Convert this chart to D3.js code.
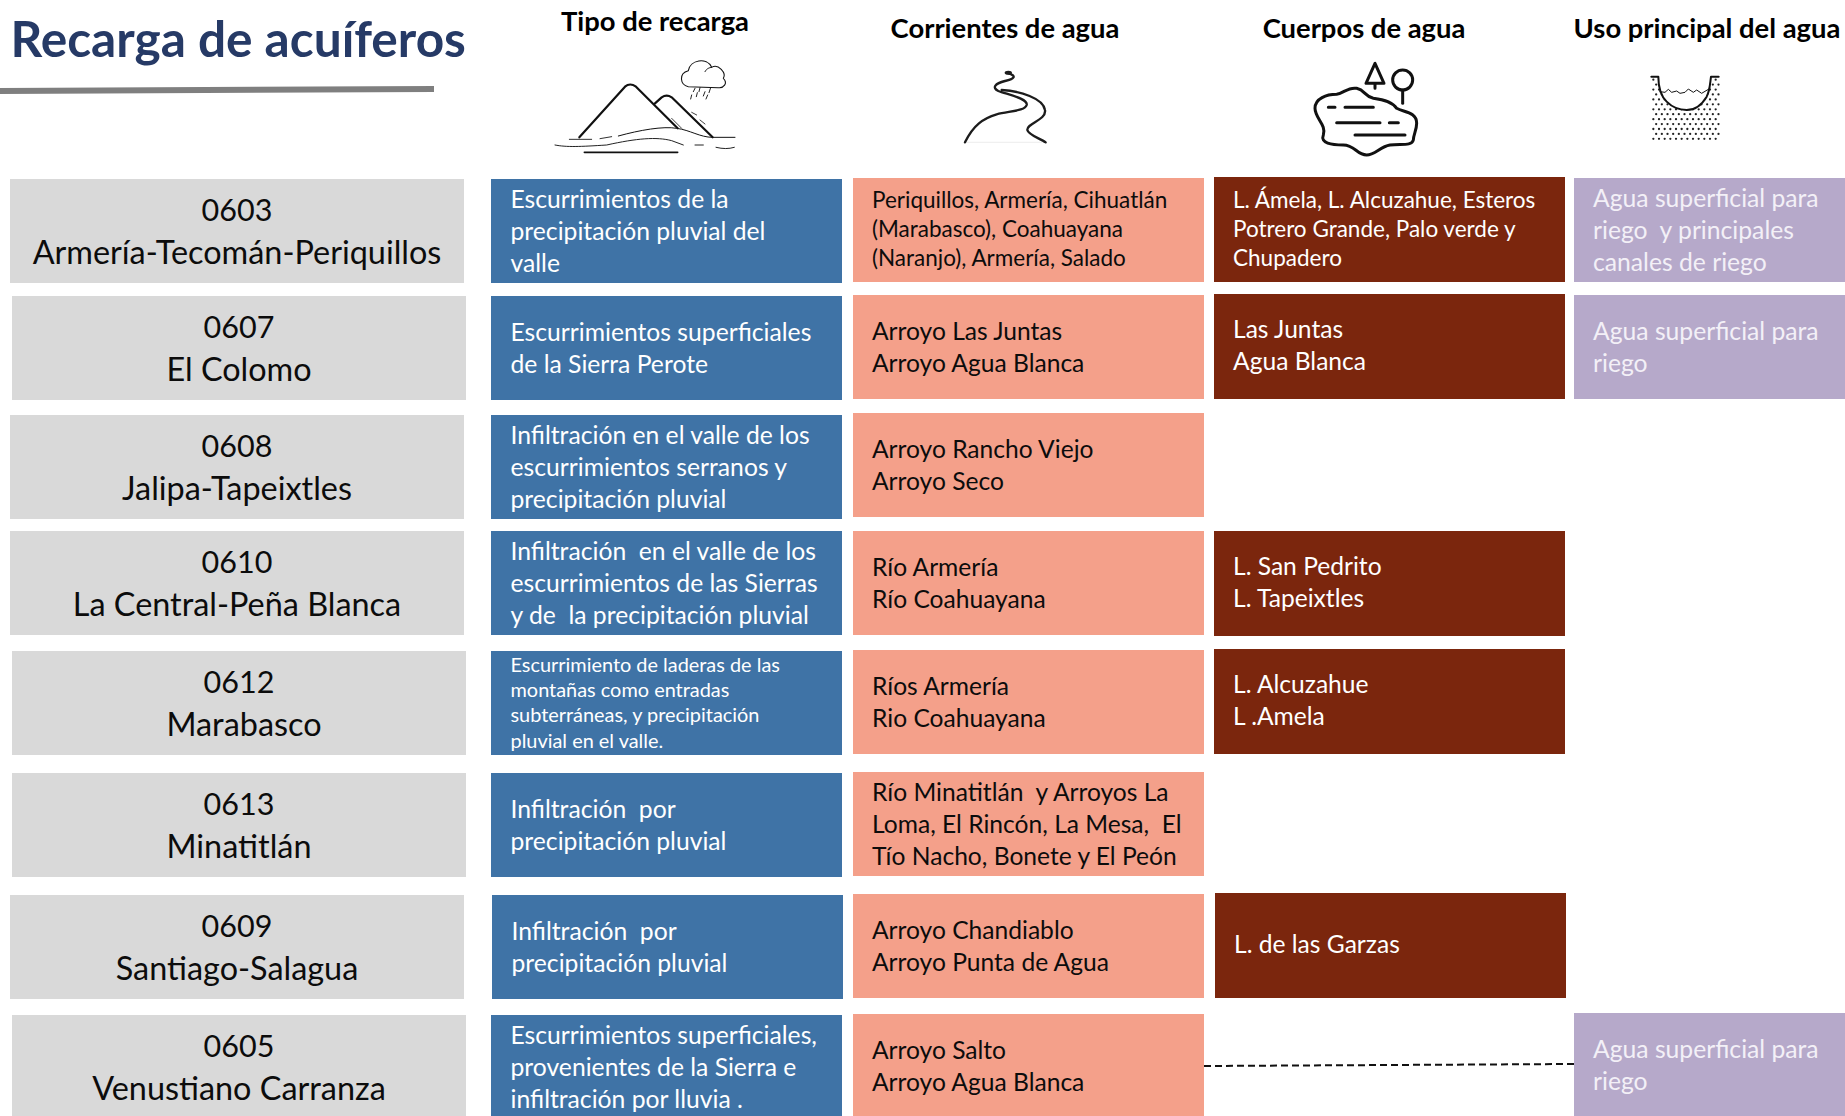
<!DOCTYPE html>
<html lang="es">
<head>
<meta charset="utf-8">
<title>Recarga de acuíferos</title>
<script src="https://d3js.org/d3.v7.min.js"></script>
<style>
html,body{margin:0;padding:0;background:#fff;overflow:hidden}
svg{display:block}
text{font-family:Lato,Carlito,"Open Sans",sans-serif}
</style>
</head>
<body>
<svg id="chart" width="1845" height="1116"></svg>
<script>
// ---------- content ----------
const chartTitle = "Recarga de acuíferos";
const columnTitles = ["Tipo de recarga", "Corrientes de agua", "Cuerpos de agua", "Uso principal del agua"];
const aquiferCodes = ["0603", "0607", "0608", "0610", "0612", "0613", "0609", "0605"];
const aquiferNames = ["Armería-Tecomán-Periquillos", "El Colomo", "Jalipa-Tapeixtles", "La Central-Peña Blanca",
  "Marabasco", "Minatitlán", "Santiago-Salagua", "Venustiano Carranza"];
const rechargeTypes = [
  ["Escurrimientos de la", "precipitación pluvial del", "valle"],
  ["Escurrimientos superficiales", "de la Sierra Perote"],
  ["Infiltración en el valle de los", "escurrimientos serranos y", "precipitación pluvial"],
  ["Infiltración  en el valle de los", "escurrimientos de las Sierras", "y de  la precipitación pluvial"],
  ["Escurrimiento de laderas de las", "montañas como entradas", "subterráneas, y precipitación", "pluvial en el valle."],
  ["Infiltración  por", "precipitación pluvial"],
  ["Infiltración  por", "precipitación pluvial"],
  ["Escurrimientos superficiales,", "provenientes de la Sierra e", "infiltración por lluvia ."]
];
const streams = [
  ["Periquillos, Armería, Cihuatlán", "(Marabasco), Coahuayana", "(Naranjo), Armería, Salado"],
  ["Arroyo Las Juntas", "Arroyo Agua Blanca"],
  ["Arroyo Rancho Viejo", "Arroyo Seco"],
  ["Río Armería", "Río Coahuayana"],
  ["Ríos Armería", "Rio Coahuayana"],
  ["Río Minatitlán  y Arroyos La", "Loma, El Rincón, La Mesa,  El", "Tío Nacho, Bonete y El Peón"],
  ["Arroyo Chandiablo", "Arroyo Punta de Agua"],
  ["Arroyo Salto", "Arroyo Agua Blanca"]
];
const waterBodies = [
  ["L. Ámela, L. Alcuzahue, Esteros", "Potrero Grande, Palo verde y", "Chupadero"],
  ["Las Juntas", "Agua Blanca"],
  null,
  ["L. San Pedrito", "L. Tapeixtles"],
  ["L. Alcuzahue", "L .Amela"],
  null,
  ["L. de las Garzas"],
  null
];
const mainUses = [
  ["Agua superficial para", "riego  y principales", "canales de riego"],
  ["Agua superficial para", "riego"],
  null, null, null, null, null,
  ["Agua superficial para", "riego"]
];

// ---------- layout ----------
const svg = d3.select("#chart");
const W = 1845, H = 1116;

const rowTop = {
  label:  d3.scaleOrdinal(aquiferCodes, [179, 296, 415, 531, 651, 773, 895, 1015]),
  type:   d3.scaleOrdinal(aquiferCodes, [179, 296, 415, 531, 651, 773, 895, 1015]),
  stream: d3.scaleOrdinal(aquiferCodes, [178, 295, 413, 531, 650, 772, 894, 1014]),
  body:   d3.scaleOrdinal(aquiferCodes, [177, 294, 413, 531, 649, 772, 893, 1014]),
  use:    d3.scaleOrdinal(aquiferCodes, [178, 295, 413, 531, 649, 772, 893, 1013])
};
const labelLeft = d3.scaleOrdinal(aquiferCodes, [10, 12, 10, 10, 12, 12, 10, 12]);
const labelShift = d3.scaleOrdinal(aquiferCodes, [0, 0, 0, 0, 5, 0, 0, 0]);
const typeLeft = d3.scaleOrdinal(aquiferCodes, [491, 491, 491, 491, 491, 491, 492, 491]);
const bodyLeft = d3.scaleOrdinal(aquiferCodes, [1214, 1214, 1214, 1214, 1214, 1214, 1215, 1214]);
const streamLeft = 853, useLeft = 1574;

const columns = [
  {key: "type",   values: rechargeTypes, left: c => typeLeft(c), width: 351, height: 104, fill: "#3f73a6", ink: "#ffffff", pad: 19.5, size: 24.7, lead: 32, nudge: 0.5},
  {key: "stream", values: streams,       left: () => streamLeft, width: 351, height: 104, fill: "#f4a08a", ink: "#0c0c0c", pad: 19, size: 24.6, lead: 32, nudge: 0.5},
  {key: "body",   values: waterBodies,   left: c => bodyLeft(c), width: 351, height: 105, fill: "#7b260d", ink: "#ffffff", pad: 19, size: 24.6, lead: 32, nudge: -0.5},
  {key: "use",    values: mainUses,      left: () => useLeft,    width: 271, height: 104, fill: "#b6a9ca", ink: "#f3f0f7", pad: 19, size: 24.7, lead: 32, nudge: 1}
];
const labelHeight = 104;

// first row of streams and water bodies is set smaller; the four-line cell is smallest
function textStyle(col, i, lines) {
  if (lines.length === 4) return {size: 19.9, lead: 25.3, nudge: 0};
  if (i === 0 && (col.key === "stream" || col.key === "body")) return {size: 22.5, lead: 29, nudge: -0.5};
  return {size: col.size, lead: col.lead, nudge: col.nudge};
}

// ---------- title ----------
svg.append("text").attr("x", 10.5).attr("y", 57)
  .attr("font-size", 49.6).attr("font-weight", 700).attr("fill", "#263a66").text(chartTitle);
const rule = d3.line();
svg.append("path")
  .attr("d", rule([[0, 88], [434, 86], [434, 92], [0, 94]]) + "Z")
  .attr("fill", "#7f7f7f");

// ---------- column heads ----------
const headCenter = d3.scaleOrdinal(columnTitles, [655, 1005, 1364, 1707]);
const headBase = d3.scaleOrdinal(columnTitles, [31, 38, 38, 38]);
svg.append("g").selectAll("text").data(columnTitles).join("text")
  .attr("x", d => headCenter(d)).attr("y", d => headBase(d))
  .attr("text-anchor", "middle").attr("font-size", 27.4).attr("font-weight", 700).attr("fill", "#000").text(d => d);

// ---------- aquifer labels ----------
const labels = svg.append("g").selectAll("g").data(aquiferCodes).join("g");
labels.append("rect")
  .attr("x", c => labelLeft(c)).attr("y", c => rowTop.label(c))
  .attr("width", 454).attr("height", labelHeight).attr("fill", "#d9d9d9");
labels.append("text")
  .attr("x", c => labelLeft(c) + 227).attr("y", c => rowTop.label(c) + 42)
  .attr("text-anchor", "middle").attr("font-size", 30.5).attr("fill", "#0c0c0c").text(c => c);
labels.append("text")
  .attr("x", c => labelLeft(c) + 227 + labelShift(c)).attr("y", c => rowTop.label(c) + 84.5)
  .attr("text-anchor", "middle").attr("font-size", 32.4).attr("fill", "#0c0c0c")
  .text((c, i) => aquiferNames[i]);

// ---------- table cells ----------
columns.forEach(col => {
  const cells = svg.append("g").selectAll("g")
    .data(aquiferCodes.map((code, i) => ({code, i, lines: col.values[i]})).filter(d => d.lines))
    .join("g");
  cells.append("rect")
    .attr("x", d => col.left(d.code)).attr("y", d => rowTop[col.key](d.code))
    .attr("width", col.width).attr("height", col.height).attr("fill", col.fill);
  cells.each(function (d) {
    const st = textStyle(col, d.i, d.lines);
    const mid = rowTop[col.key](d.code) + col.height / 2;
    d3.select(this).selectAll("text").data(d.lines).join("text")
      .attr("x", col.left(d.code) + col.pad)
      .attr("y", (l, k) => mid + (k - (d.lines.length - 1) / 2) * st.lead + st.size * 0.34 + st.nudge)
      .attr("font-size", st.size).attr("fill", col.ink)
      .attr("xml:space", "preserve").style("white-space", "pre").text(l => l);
  });
});

// ---------- connector ----------
svg.append("line").attr("x1", streamLeft + 351).attr("y1", 1066).attr("x2", useLeft).attr("y2", 1064)
  .attr("stroke", "#111").attr("stroke-width", 2).attr("stroke-dasharray", "7 4");

// ---------- pictograms (drawn at 3x, placed at 1/3 scale) ----------
function icon(x, y) {
  return svg.append("g").attr("transform", `translate(${x},${y}) scale(${1 / 3})`)
    .attr("fill", "none").attr("stroke", "#111").attr("stroke-linecap", "round").attr("stroke-linejoin", "round");
}
const ic1 = icon(540, 50);
[["M118,262 L255,110 Q270,97 288,110 L413,235", 6.5],
 ["M345,160 L365,142 Q380,132 395,142 L518,262", 6.5],
 ["M235,258 C300,240 370,228 410,235 C450,240 480,262 518,262 H585", 3],
 ["M88,268 H155 M180,266 L215,260", 2.6],
 ["M45,285 C80,292 120,290 200,285 C290,265 350,260 395,272 L430,285 M465,285 H490 M528,292 C550,297 565,297 583,292", 2.8],
 ["M133,307 H413", 5],
 ["M445,110 C420,105 415,70 445,62 C450,30 500,20 515,52 C535,40 560,70 550,85 C565,100 550,115 535,113 Z", 3.2],
 ["M495,65 C500,55 508,53 515,52", 2.8],
 ["M465,115 L460,125 M455,135 L452,147 M480,113 L477,125 M472,128 L469,140 M495,125 L490,138 M512,113 L507,128 M503,135 L498,147", 2.8],
 ["M395,205 L425,235 M455,187 L470,195 M480,210 L495,222", 2.4]
].forEach(([d, w]) => ic1.append("path").attr("d", d).attr("stroke-width", w));

const ic2 = icon(950, 55);
ic2.append("path").attr("d", "M45,262 H287").attr("stroke", "#e4e4e4").attr("stroke-width", 2);
ic2.append("path").attr("stroke-width", 7).attr("stroke", "#1c1c1c")
  .attr("d", "M45,262 C70,210 100,190 140,178 C180,168 225,168 230,150 C235,130 170,118 145,108 C125,98 135,85 165,78 C195,72 200,62 175,55");
ic2.append("path").attr("stroke-width", 7).attr("stroke", "#1c1c1c")
  .attr("d", "M155,105 C210,108 280,130 285,165 C290,195 230,205 232,225 C235,240 270,250 287,262");
ic2.append("ellipse").attr("cx", 175).attr("cy", 53).attr("rx", 11).attr("ry", 6).attr("fill", "#1c1c1c").attr("stroke", "none");

const ic3 = icon(1300, 55);
ic3.attr("stroke-width", 9);
["M45,160 C45,130 80,118 110,118 C130,115 145,95 170,100 C195,105 195,125 220,130 C260,135 280,145 290,160 C310,172 350,170 350,205 C350,225 340,240 340,255 C335,275 300,265 270,270 C240,275 225,300 200,300 C170,300 165,270 130,270 C95,270 60,265 70,240 C80,210 45,190 45,160 Z",
 "M85,157 H105 M135,157 H220 M110,203 H240 M268,203 H295 M165,240 H315",
 "M225,25 L198,85 H252 Z M225,85 V100",
 "M308,105 V145"
].forEach(d => ic3.append("path").attr("d", d));
ic3.append("circle").attr("cx", 308).attr("cy", 75).attr("r", 30);

const ic4 = icon(1630, 65);
const dotRows = d3.range(0, 13), dotCols = d3.range(0, 12);
dotRows.forEach(r => dotCols.forEach(c => {
  const x = 70 + c * 17 + (r % 2 ? 8.5 : 0), y = 44 + r * 14.8;
  if (x <= 266) ic4.append("circle").attr("cx", x).attr("cy", y).attr("r", 3.4).attr("fill", "#222").attr("stroke", "none");
}));
ic4.append("path").attr("fill", "#fff").attr("stroke", "none")
  .attr("d", "M85,30 C85,60 90,90 110,110 C130,130 150,135 170,135 C195,135 215,120 230,95 C240,75 240,55 243,30 Z");
ic4.append("path").attr("stroke-width", 6)
  .attr("d", "M64,35 H85 C85,60 90,90 110,110 C130,130 150,135 170,135 C195,135 215,120 230,95 C240,75 240,55 243,35 H266");
ic4.append("path").attr("stroke-width", 3)
  .attr("d", "M90,80 L105,82 L115,73 L125,82 L140,78 L150,85 L165,82 L175,72 L190,82 L200,75 L215,85 L240,70");
</script>
</body>
</html>
